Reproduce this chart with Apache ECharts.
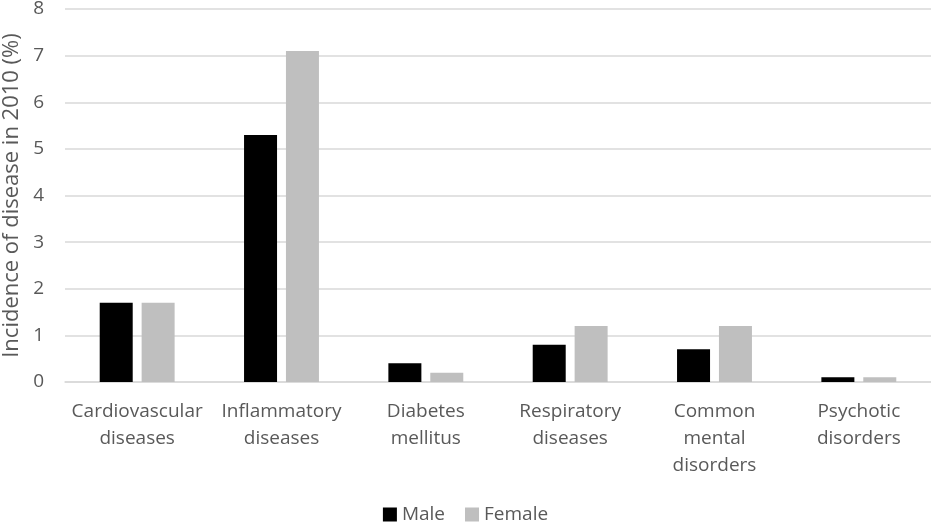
<!DOCTYPE html>
<html><head><meta charset="utf-8">
<script src="https://cdn.jsdelivr.net/npm/echarts@6/dist/echarts.min.js"></script>
<style>html,body{margin:0;padding:0;background:#fff}#c{width:931px;height:523px}</style>
</head><body><div id="c"></div>
<script>
const categories = ["Cardiovascular\ndiseases","Inflammatory\ndiseases","Diabetes\nmellitus","Respiratory\ndiseases","Common\nmental\ndisorders","Psychotic\ndisorders"];
const male = [1.7, 5.3, 0.4, 0.8, 0.7, 0.1];
const female = [1.7, 7.1, 0.2, 1.2, 1.2, 0.1];
const yTicks = [0,1,2,3,4,5,6,7,8];
const FONT = "Open Sans";
const chart = echarts.init(document.getElementById('c'));
chart.setOption({
  animation:false,
  textStyle:{fontFamily:FONT},
  grid:{left:65,right:0,top:9,bottom:141,outerBoundsMode:'none',containLabel:false},
  legend:{top:500,left:'center',itemWidth:14,itemHeight:14,itemGap:20,icon:'rect',
    textStyle:{color:'#595959',fontSize:19,fontFamily:FONT},
    data:['Male','Female']},
  xAxis:{type:'category',data:categories,
    axisLine:{lineStyle:{color:'#d9d9d9',width:1.5}},axisTick:{show:false},
    axisLabel:{color:'#595959',fontSize:19,lineHeight:27,margin:16,interval:0,fontFamily:FONT}},
  yAxis:{type:'value',min:yTicks[0],max:yTicks[yTicks.length-1],interval:1,
    name:'Incidence of disease in 2010 (%)',nameLocation:'middle',nameGap:41,
    nameTextStyle:{color:'#595959',fontSize:22,fontFamily:FONT},
    axisLine:{show:false},axisTick:{show:false},
    axisLabel:{color:'#595959',fontSize:19,margin:21,fontFamily:FONT},
    splitLine:{lineStyle:{color:'#d9d9d9',width:1.5}}},
  series:[
    {name:'Male',type:'bar',data:male,barWidth:33,barGap:'27%',itemStyle:{color:'#000000'}},
    {name:'Female',type:'bar',data:female,barWidth:33,itemStyle:{color:'#bfbfbf'}}
  ]
});
</script></body></html>
